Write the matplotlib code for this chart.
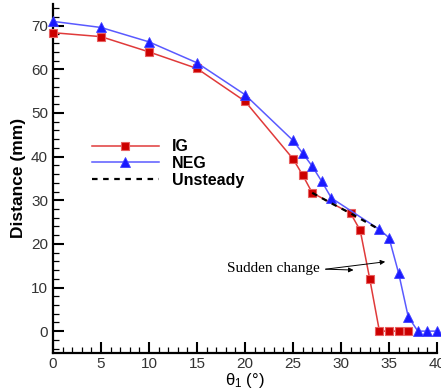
import matplotlib
matplotlib.use('Agg')
import matplotlib.pyplot as plt
from matplotlib.ticker import MultipleLocator

plt.rcParams['font.family'] = ['Liberation Sans', 'DejaVu Sans']

# data
ig_theta = [0, 5, 10, 15, 20, 25, 26, 27, 31, 32, 33, 34, 35, 36, 37]
ig_dist = [68.4, 67.5, 64.0, 60.2, 52.7, 39.5, 35.8, 31.7, 27.0, 23.1, 11.9, 0, 0, 0, 0]

neg_theta = [0, 5, 10, 15, 20, 25, 26, 27, 28, 29, 34, 35, 36, 37, 38, 39, 40]
neg_dist = [71.0, 69.6, 66.3, 61.5, 54.2, 43.7, 40.8, 37.8, 34.3, 30.5, 23.3, 21.4, 13.3, 3.3, 0, 0, 0]

uns_theta = [27, 29, 31, 34]
uns_dist = [31.7, 29.3, 27.0, 23.3]

fig = plt.figure(figsize=(4.41, 3.90), dpi=100)
ax = fig.add_axes([0.120, 0.095, 0.871, 0.895])

ax.plot(ig_theta, ig_dist, color='#e03a3a', lw=1.1, marker='s', ms=6.2,
        mfc='#cc0000', mec='#e86060', mew=0.8, label='IG', clip_on=False, zorder=3)
ax.plot(neg_theta, neg_dist, color='#5a5aff', lw=1.1, marker='^', ms=7,
        mfc='#1a1aff', mec='#4040ff', mew=0.6, label='NEG', clip_on=False, zorder=3)
ax.plot(uns_theta, uns_dist, color='black', lw=1.6, ls=(0, (2.5, 2.5)),
        label='Unsteady', zorder=4)

# annotation
ax.text(18.1, 14.3, 'Sudden change', family=['Liberation Serif', 'DejaVu Serif'],
        fontsize=11, va='center', ha='left')
for tx, ty in [(31.3, 14.0), (34.6, 15.9)]:
    ax.annotate('', xy=(tx, ty), xytext=(28.4, 14.2),
                arrowprops=dict(arrowstyle='-|>', color='black', lw=0.7,
                                mutation_scale=7, shrinkA=0, shrinkB=0))

ax.set_xlim(0, 40)
ax.set_ylim(-5, 75)
ax.xaxis.set_major_locator(MultipleLocator(5))
ax.xaxis.set_minor_locator(MultipleLocator(1))
ax.yaxis.set_major_locator(MultipleLocator(10))
ax.yaxis.set_minor_locator(MultipleLocator(2))
ax.set_yticks([0, 10, 20, 30, 40, 50, 60, 70])

for s in ['top', 'right']:
    ax.spines[s].set_visible(False)
for s in ['left', 'bottom']:
    ax.spines[s].set_linewidth(1.6)

ax.tick_params(which='major', direction='in', length=8, width=1.5,
               labelsize=11, colors='black', labelcolor='#333333')
ax.tick_params(which='minor', direction='in', length=4.5, width=0.9)
ax.tick_params(axis='x', pad=3)

ax.set_xlabel(r'$\mathregular{\theta_1}$ (°)', fontsize=12, labelpad=0)
ax.set_ylabel('Distance (mm)', fontsize=12.5, fontweight='bold', labelpad=4)

leg = ax.legend(loc='upper left', bbox_to_anchor=(0.085, 0.63), frameon=False,
                fontsize=11.5, handlelength=4.2, handletextpad=0.8,
                labelspacing=0.1, borderaxespad=0)
for t in leg.get_texts():
    t.set_fontweight('bold')

fig.savefig('out.png', dpi=100)
